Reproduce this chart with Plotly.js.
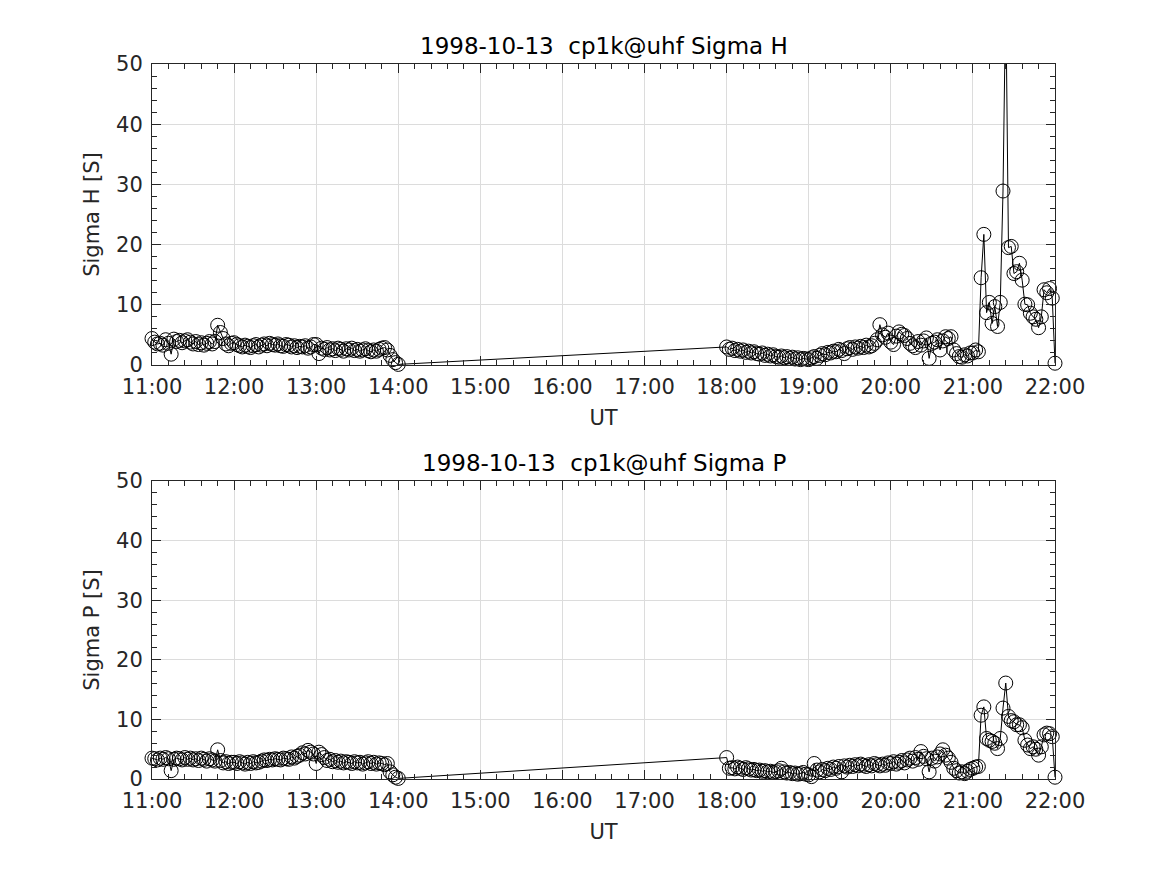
<!DOCTYPE html>
<html>
<head>
<meta charset="utf-8">
<script src="https://cdn.plot.ly/plotly-3.0.1.min.js"></script>
<style>
html,body{margin:0;padding:0;background:#fff;}
#chart{width:1167px;height:875px;}
</style>
</head>
<body>
<div id="chart"></div>
<script>
// ---- Data ----
const dateStr = "1998-10-13";
const titleH = "1998-10-13\u00A0\u00A0cp1k@uhf Sigma H";
const titleP = "1998-10-13\u00A0\u00A0cp1k@uhf Sigma P";
const xTickLabels = ["11:00","12:00","13:00","14:00","15:00","16:00","17:00","18:00","19:00","20:00","21:00","22:00"];

// Sample times: two observing blocks, 2-minute cadence
const seg1Start = "11:00", seg1Count = 91;   // 11:00 .. 14:00
const seg2Start = "18:00", seg2Count = 121;  // 18:00 .. 22:00
const cadenceMin = 2;

// Sigma H [S]
const sigmaH_seg1 = [
  4.4, 3.8, 3.5, 3.6, 3.3, 4.2, 3.6, 1.8, 4.3, 3.9, 4.1, 3.7, 4.0, 4.2, 3.8, 3.5, 3.9, 3.4, 3.7, 3.3, 3.6, 3.9, 3.5, 3.9, 6.6, 5.4, 4.4, 3.5, 3.2, 3.6,
  3.7, 3.4, 3.2, 3.0, 3.3, 3.1, 2.9, 3.2, 3.4, 3.0, 3.3, 3.5, 3.2, 3.6, 3.4, 3.3, 3.5, 3.2, 3.1, 3.4, 3.3, 3.0, 3.2, 2.9, 3.1, 3.0, 3.2, 2.8, 3.0, 3.4,
  3.4, 1.9, 2.8, 2.6, 2.9, 2.5, 2.7, 2.4, 2.8, 2.6, 2.3, 2.7, 2.5, 2.8, 2.4, 2.6, 2.3, 2.5, 2.7, 2.4, 2.2, 2.5, 2.3, 2.6, 2.8, 2.9, 2.5, 1.6, 0.9, 0.4,
  0.1
];
const sigmaH_seg2 = [
  3.0, 2.6, 2.8, 2.4, 2.6, 2.3, 2.5, 2.1, 2.3, 2.0, 2.2, 1.9, 1.8, 2.0, 1.6, 1.8, 1.5, 1.7, 1.4, 1.3, 1.5, 1.2, 1.4, 1.1, 1.3, 1.0, 1.2, 0.9, 1.1, 1.0,
  0.9, 1.2, 1.4, 1.1, 1.6, 1.9, 1.7, 2.1, 2.0, 2.3, 2.2, 2.6, 2.4, 1.9, 2.7, 2.9, 2.6, 3.0, 2.8, 3.1, 2.9, 3.3, 3.0, 3.2, 3.6, 4.2, 6.7, 5.0, 4.6, 5.3,
  3.8, 3.4, 4.8, 5.5, 5.1, 4.9, 4.4, 3.6, 3.2, 2.9, 3.9, 3.3, 4.0, 4.5, 1.1, 3.6, 3.8, 4.2, 2.5, 4.0, 4.7, 4.4, 4.7, 2.5, 1.9, 1.4, 1.3, 1.7, 1.5, 2.0,
  2.0, 2.5, 2.2, 14.5, 21.7, 8.7, 10.4, 6.9, 9.7, 6.4, 10.4, 28.9, 62.0, 19.5, 19.7, 15.2, 15.5, 16.9, 14.1, 10.1, 10.0, 8.6, 8.0, 7.6, 6.2, 8.0, 12.5, 12.0, 12.7, 11.1,
  0.3
];

// Sigma P [S]
const sigmaP_seg1 = [
  3.5, 3.4, 3.2, 3.5, 3.3, 3.6, 3.4, 1.4, 3.3, 3.5, 3.4, 3.2, 3.6, 3.3, 3.5, 3.2, 3.4, 3.1, 3.5, 3.3, 3.0, 3.4, 3.2, 3.0, 4.9, 3.1, 2.7, 2.9, 2.6, 2.8,
  2.8, 2.6, 2.9, 2.7, 2.5, 2.8, 2.6, 2.9, 2.7, 2.8, 3.0, 3.2, 3.1, 3.3, 3.2, 3.4, 3.3, 3.2, 3.5, 3.4, 3.3, 3.7, 3.5, 3.8, 4.0, 4.4, 4.2, 4.8, 4.5, 4.2,
  2.6, 4.5, 4.1, 3.6, 3.1, 3.3, 2.9, 3.1, 2.8, 3.0, 2.7, 2.9, 2.8, 2.6, 2.9, 2.7, 2.8, 2.5, 2.7, 2.9, 2.6, 2.8, 2.5, 2.7, 2.6, 2.4, 2.6, 1.2, 0.7, 0.3,
  0.1
];
const sigmaP_seg2 = [
  3.6, 1.8, 1.9, 1.7, 2.0, 1.8, 1.6, 1.9, 1.7, 1.5, 1.6, 1.4, 1.5, 1.3, 1.4, 1.2, 1.3, 1.1, 1.2, 1.4, 1.8, 1.2, 1.0, 1.1, 0.9, 1.0, 0.8, 0.9, 1.1, 0.8,
  0.7, 0.4, 2.6, 1.5, 1.2, 1.6, 1.4, 1.8, 1.6, 2.0, 1.8, 2.1, 1.2, 2.2, 2.0, 2.3, 2.1, 2.4, 2.2, 2.5, 2.3, 2.1, 2.4, 2.2, 2.6, 2.4, 2.2, 2.5, 2.3, 2.7,
  2.6, 2.9, 2.5, 2.8, 3.1, 2.7, 3.2, 3.5, 3.0, 3.6, 3.3, 4.6, 3.8, 3.4, 1.2, 3.5, 3.0, 3.7, 4.2, 4.9, 4.0, 3.5, 2.8, 1.8, 1.4, 1.0, 1.2, 0.9, 1.3, 1.6,
  1.8, 2.0, 2.1, 10.7, 12.1, 6.8, 6.5, 6.3, 6.0, 5.1, 6.8, 11.9, 16.1, 10.5, 9.8, 9.6, 9.1, 9.1, 8.6, 6.5, 5.7, 5.1, 5.4, 5.0, 4.0, 5.4, 7.4, 7.7, 7.6, 7.1,
  0.3
];

// ---- Build time stamps ----
function pad(n){ return (n < 10 ? "0" : "") + n; }
function buildTimes(start, count, step){
  const [h0, m0] = start.split(":").map(Number);
  const out = [];
  for (let i = 0; i < count; i++){
    const tot = h0 * 60 + m0 + i * step;
    out.push(dateStr + " " + pad(Math.floor(tot / 60)) + ":" + pad(tot % 60) + ":00");
  }
  return out;
}
const times = buildTimes(seg1Start, seg1Count, cadenceMin).concat(buildTimes(seg2Start, seg2Count, cadenceMin));
const sigmaH = sigmaH_seg1.concat(sigmaH_seg2);
const sigmaP = sigmaP_seg1.concat(sigmaP_seg2);
const tickVals = xTickLabels.map(t => dateStr + " " + t + ":00");

// ---- Styling ----
const fontFam = "DejaVu Sans, sans-serif";
const axCol = "#262626";
const gridCol = "#dcdcdc";

function traceFor(y, ax){
  return {
    x: times, y: y, xaxis: ax.x, yaxis: ax.y,
    type: "scatter", mode: "lines+markers",
    line: {color: "#000", width: 1},
    marker: {symbol: "circle-open", size: 14, color: "#000", line: {width: 1, color: "#000"}},
    cliponaxis: false, showlegend: false, hoverinfo: "x+y"
  };
}

function xAxis(anchor){
  return {
    type: "date", anchor: anchor,
    range: [dateStr + " 11:00:00", dateStr + " 22:00:00"],
    tickmode: "array", tickvals: tickVals, ticktext: xTickLabels,
    ticks: "inside", ticklen: 9, tickwidth: 1, tickcolor: axCol,
    ticklabelstandoff: 3,
    minor: {dtick: 12 * 60 * 1000, ticks: "inside", ticklen: 5, tickcolor: axCol, showgrid: false},
    showline: true, linecolor: axCol, linewidth: 1, mirror: "allticks",
    showgrid: true, gridcolor: gridCol, gridwidth: 1,
    zeroline: false,
    tickfont: {family: fontFam, size: 21, color: axCol},
    title: {text: "UT", font: {family: fontFam, size: 21, color: axCol}, standoff: 12},
    fixedrange: true
  };
}
function yAxis(anchor, domain, label){
  return {
    anchor: anchor, domain: domain, range: [0, 50],
    tickmode: "linear", tick0: 0, dtick: 10,
    ticks: "inside", ticklen: 9, tickwidth: 1, tickcolor: axCol,
    ticklabelstandoff: 4,
    minor: {dtick: 2, ticks: "inside", ticklen: 5, tickcolor: axCol, showgrid: false},
    showline: true, linecolor: axCol, linewidth: 1, mirror: "allticks",
    showgrid: true, gridcolor: gridCol, gridwidth: 1,
    zeroline: false,
    tickfont: {family: fontFam, size: 21, color: axCol},
    title: {text: label, font: {family: fontFam, size: 21, color: axCol}, standoff: 10},
    fixedrange: true
  };
}

const layout = {
  width: 1167, height: 875,
  paper_bgcolor: "#fff", plot_bgcolor: "#fff",
  margin: {l: 152, r: 112, t: 64, b: 96},
  xaxis: Object.assign(xAxis("y"), {domain: [0, 1]}),
  yaxis: yAxis("x", [0.579, 1], "Sigma H [S]"),
  xaxis2: Object.assign(xAxis("y2"), {domain: [0, 1]}),
  yaxis2: yAxis("x2", [0, 0.4168], "Sigma P [S]"),
  annotations: [
    {text: titleH, xref: "paper", yref: "paper", x: 0.5, y: 1, xanchor: "center", yanchor: "bottom", yshift: 3,
     showarrow: false, font: {family: fontFam, size: 23, color: "#000"}},
    {text: titleP, xref: "paper", yref: "paper", x: 0.5, y: 0.4168, xanchor: "center", yanchor: "bottom", yshift: 3,
     showarrow: false, font: {family: fontFam, size: 23, color: "#000"}}
  ]
};

Plotly.newPlot("chart", [traceFor(sigmaH, {x: "x", y: "y"}), traceFor(sigmaP, {x: "x2", y: "y2"})], layout, {staticPlot: true, displayModeBar: false});
</script>
</body>
</html>
